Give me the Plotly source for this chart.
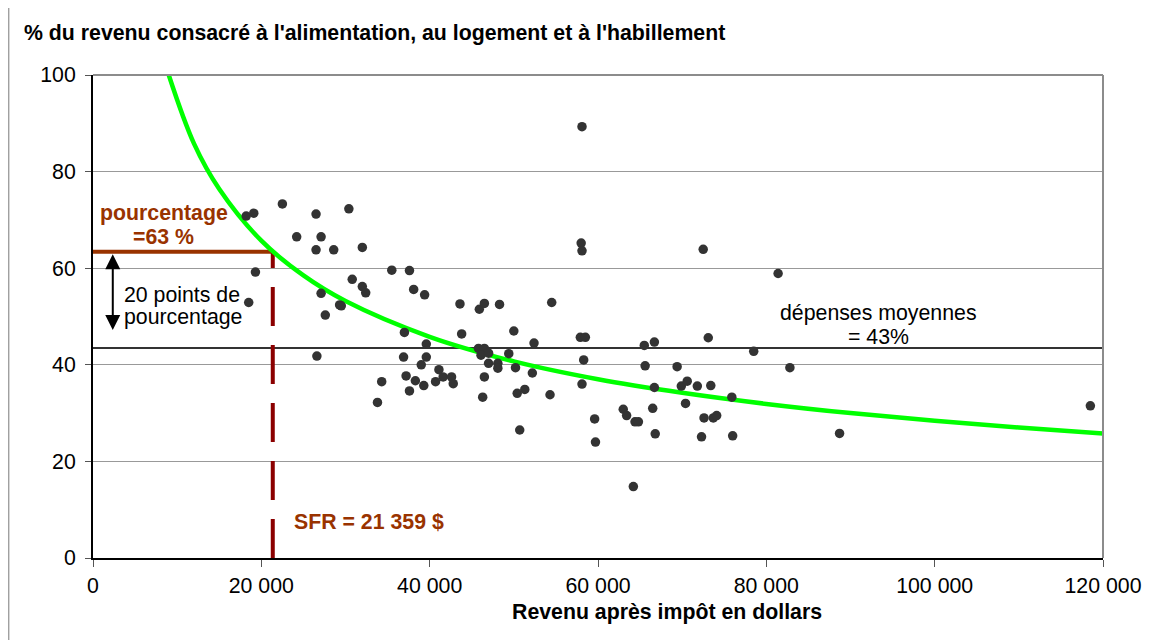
import plotly.graph_objects as go

# ---- data ----
revenu_k = [18.2, 19.1, 22.5, 19.3, 18.5, 26.5, 30.4, 24.2, 27.1, 26.5, 28.6, 32.0, 35.5, 37.6,
            30.8, 32.0, 32.4, 38.1, 39.4, 27.1, 29.3, 29.5, 27.6, 37.0, 39.6, 39.6, 39.0, 26.6,
            36.9, 37.2, 38.3, 39.3, 37.6, 34.3, 33.8, 43.6, 45.9, 46.5, 48.3, 54.5, 43.8, 50.0,
            52.4, 57.9, 58.5, 45.8, 46.5, 46.1, 47.0, 49.4, 47.0, 48.1, 48.1, 50.2, 52.2, 58.3,
            41.1, 41.6, 42.6, 40.7, 42.8, 46.5, 46.3, 50.4, 51.3, 54.3, 58.1, 59.6, 50.7, 58.1,
            58.0, 58.1, 65.5, 66.7, 65.6, 66.7, 63.0, 63.4, 64.4, 64.8, 66.5, 59.7, 66.8, 73.1,
            78.5, 69.4, 82.8, 69.9, 70.6, 71.8, 73.4, 75.9, 70.4, 72.6, 73.7, 74.1, 72.3, 76.0,
            64.2, 72.5, 81.4, 118.5, 88.7]
part_pct = [70.8, 71.4, 73.3, 59.2, 52.9, 71.2, 72.3, 66.5, 66.5, 63.8, 63.8, 64.3, 59.6, 59.5,
            57.7, 56.2, 54.9, 55.6, 54.5, 54.8, 52.4, 52.2, 50.3, 46.7, 44.3, 41.6, 40.0, 41.8,
            41.6, 37.7, 36.7, 35.7, 34.6, 36.5, 32.2, 52.6, 51.5, 52.7, 52.5, 52.9, 46.4, 47.0,
            44.5, 45.7, 45.7, 43.4, 43.4, 42.0, 42.4, 42.3, 40.3, 40.3, 39.3, 39.4, 38.3, 41.0,
            39.0, 37.5, 37.5, 36.5, 36.1, 37.5, 33.3, 34.1, 34.9, 33.8, 36.0, 28.8, 26.5, 89.3,
            65.2, 63.6, 44.0, 44.7, 39.8, 35.3, 30.8, 29.5, 28.2, 28.2, 31.0, 24.0, 25.7, 45.6,
            42.8, 39.6, 39.4, 35.6, 36.6, 35.6, 35.7, 33.3, 32.0, 29.0, 29.0, 29.5, 25.1, 25.3,
            14.8, 63.9, 58.9, 31.5, 25.8]

courbe_x_k = [9, 12, 15, 20, 25, 30, 40, 50, 60, 70, 80, 90, 100, 110, 120]
courbe_y = [100, 85.8, 76.4, 65.7, 58.5, 53.2, 45.8, 40.7, 37.0, 34.2, 31.9, 30.0, 28.4, 27.0, 25.8]

moyenne = 43.5
sfr = 21359
pourcentage = 63.4
x_max = 120000

x_ticks = [0, 20000, 40000, 60000, 80000, 100000, 120000]
x_tick_labels = ["0", "20 000", "40 000", "60 000", "80 000", "100 000", "120 000"]
y_ticks = [0, 20, 40, 60, 80, 100]

FONT = "Liberation Sans, Arial, sans-serif"
BROWN = "#993300"
MAROON = "#8B0000"

fig = go.Figure()

# average line
fig.add_trace(go.Scatter(x=[0, x_max], y=[moyenne, moyenne], mode="lines",
                         line=dict(color="#333333", width=2), hoverinfo="skip"))
# brown horizontal line at the percentage
fig.add_trace(go.Scatter(x=[0, sfr], y=[pourcentage, pourcentage], mode="lines",
                         line=dict(color=BROWN, width=4), hoverinfo="skip"))
# dashed vertical line at SFR
fig.add_trace(go.Scatter(x=[sfr, sfr], y=[0, pourcentage], mode="lines",
                         line=dict(color=MAROON, width=4, dash="39px,19px"), hoverinfo="skip"))
# green curve
fig.add_trace(go.Scatter(x=[v * 1000 for v in courbe_x_k], y=courbe_y, mode="lines",
                         line=dict(color="#00FF00", width=4.5, shape="spline"), hoverinfo="skip"))
# scatter points
fig.add_trace(go.Scatter(x=[v * 1000 for v in revenu_k], y=part_pct, mode="markers",
                         marker=dict(color="#333333", size=9.5, line=dict(width=0))))

fs = 21.3
ann = []
ann.append(dict(x=-0.0706, y=1.087, xref="paper", yref="paper", xanchor="left", yanchor="middle",
                text="<b>% du revenu consacré à l'alimentation, au logement et à l'habillement</b>",
                showarrow=False, font=dict(size=fs, color="black")))
ann.append(dict(x=0.568, y=-0.1127, xref="paper", yref="paper", xanchor="center", yanchor="middle",
                text="<b>Revenu après impôt en dollars</b>", showarrow=False,
                font=dict(size=fs, color="black")))
ann.append(dict(x=8400, y=71.4, xref="x", yref="y", xanchor="center", yanchor="middle",
                text="<b>pourcentage</b>", showarrow=False, font=dict(size=fs, color=BROWN)))
ann.append(dict(x=8400, y=66.5, xref="x", yref="y", xanchor="center", yanchor="middle",
                text="<b>=63 %</b>", showarrow=False, font=dict(size=fs, color=BROWN)))
ann.append(dict(x=3400, y=52.2 + 2.25, xref="x", yref="y", xanchor="left", yanchor="middle",
                text="20 points de", showarrow=False, font=dict(size=fs, color="black")))
ann.append(dict(x=3400, y=52.2 - 2.25, xref="x", yref="y", xanchor="left", yanchor="middle",
                text="pourcentage", showarrow=False, font=dict(size=fs, color="black")))
ann.append(dict(x=93300, y=50.7, xref="x", yref="y", xanchor="center", yanchor="middle",
                text="dépenses moyennes", showarrow=False, font=dict(size=fs, color="black")))
ann.append(dict(x=93300, y=45.8, xref="x", yref="y", xanchor="center", yanchor="middle",
                text="= 43%", showarrow=False, font=dict(size=fs, color="black")))
ann.append(dict(x=23700, y=7.45, xref="x", yref="y", xanchor="left", yanchor="middle",
                text="<b>SFR = 21 359 $</b>", showarrow=False, font=dict(size=fs, color=BROWN)))
# double arrow
ann.append(dict(x=2350, y=47.2, ax=2350, ay=63.2, xref="x", yref="y", axref="x", ayref="y",
                text="", showarrow=True, arrowhead=2, startarrowhead=2, arrowside="end+start",
                arrowsize=1.5, startarrowsize=1.5, arrowwidth=2, arrowcolor="black"))

shapes = [
    # top and right plot borders (gray)
    dict(type="line", xref="paper", yref="paper", x0=0, x1=1, y0=1, y1=1,
         line=dict(color="#8c8c8c", width=2)),
    dict(type="line", xref="paper", yref="paper", x0=1, x1=1, y0=0, y1=1,
         line=dict(color="#8c8c8c", width=2)),
    # outer chart frame (left and top)
    dict(type="line", xref="paper", yref="paper", x0=-0.0835, x1=1.06, y0=1.1428, y1=1.1428,
         line=dict(color="#a0a0a0", width=1.5)),
    dict(type="line", xref="paper", yref="paper", x0=-0.0835, x1=-0.0835, y0=-0.2, y1=1.1428,
         line=dict(color="#a0a0a0", width=1.5)),
]

# the page body adds an 8px offset, so the figure is sized to fit the remaining window
fig.update_layout(
    width=1146, height=632,
    margin=dict(l=85.3, r=50.7, t=67, b=81.5),
    paper_bgcolor="white", plot_bgcolor="white",
    showlegend=False,
    font=dict(family=FONT, size=fs, color="black"),
    annotations=ann, shapes=shapes,
    xaxis=dict(range=[0, x_max], tickvals=x_ticks, ticktext=x_tick_labels,
               showgrid=False, zeroline=False, showline=True, linecolor="black", linewidth=2,
               ticks="outside", ticklen=7, tickcolor="#555555", tickwidth=1,
               tickfont=dict(size=fs, family=FONT, color="black"), fixedrange=True),
    yaxis=dict(range=[0, 100], tickvals=y_ticks, showgrid=True, gridcolor="#999999", gridwidth=1,
               zeroline=False, showline=True, linecolor="black", linewidth=2,
               ticks="outside", ticklen=6, tickcolor="#555555", tickwidth=1, ticklabelstandoff=5,
               tickfont=dict(size=fs, family=FONT, color="black"), fixedrange=True),
)

fig.write_html("out.html")
